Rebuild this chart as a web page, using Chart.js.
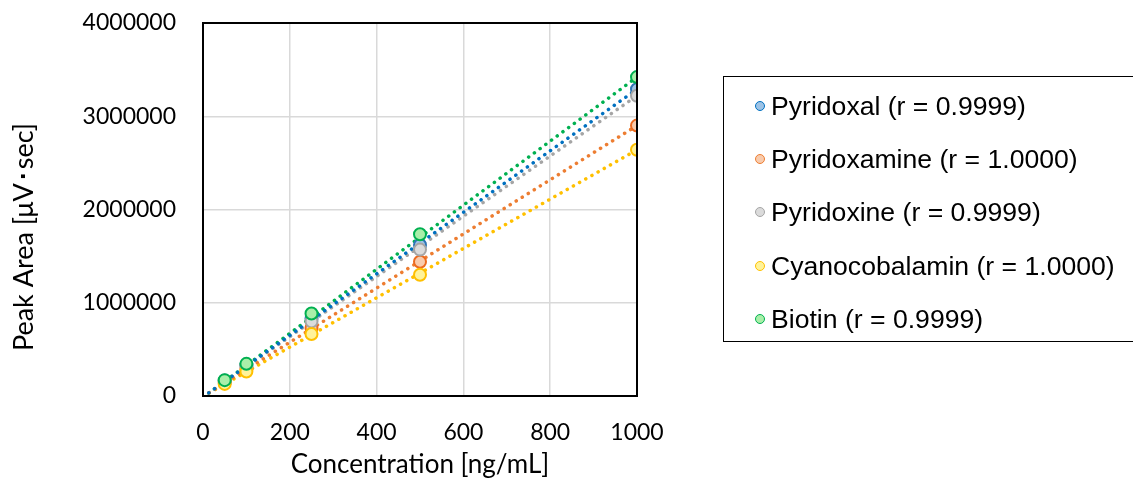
<!DOCTYPE html>
<html>
<head>
<meta charset="utf-8">
<script src="https://cdn.jsdelivr.net/npm/chart.js@4"></script>
<style>
  html, body { margin: 0; padding: 0; background: #fff; }
  #wrap { position: relative; width: 1133px; height: 484px; overflow: hidden; }
  #legend {
    position: absolute; left: 723px; top: 76px; width: 440px; height: 266px;
    border: 1.5px solid #000; box-sizing: border-box;
    font-family: "Liberation Sans", Arial, sans-serif; font-size: 26.6px; color: #000;
  }
  .item { position: absolute; left: 31px; height: 30px; line-height: 30px; white-space: nowrap; }
  .dot {
    display: inline-block; width: 8px; height: 8px; border-radius: 50%;
    border: 1.5px solid; vertical-align: middle; margin-right: 6px; position: relative; top: -2px;
  }
</style>
</head>
<body>
<div id="wrap">
  <canvas id="chart" width="1133" height="484"></canvas>
  <div id="legend"></div>
</div>
<script>
const concentrations = [50, 100, 250, 500, 1000];
const pyridoxal = [165000, 330000, 830000, 1620000, 3290000];
const pyridoxamine = [145000, 290000, 730000, 1440000, 2900000];
const pyridoxine = [160000, 320000, 800000, 1570000, 3220000];
const cyanocobalamin = [130000, 262000, 665000, 1300000, 2640000];
const biotin = [170000, 345000, 885000, 1735000, 3420000];

// trendline end points (x = 0 and x = 1000)
const trendX = [0, 1000];
const pyridoxalTrend = [-10000, 3290000];
const pyridoxamineTrend = [-5000, 2900000];
const pyridoxineTrend = [-10000, 3220000];
const cyanocobalaminTrend = [-5000, 2640000];
const biotinTrend = [-15000, 3420000];

const labels = ['Pyridoxal (r = 0.9999)', 'Pyridoxamine (r = 1.0000)', 'Pyridoxine (r = 0.9999)',
                'Cyanocobalamin (r = 1.0000)', 'Biotin (r = 0.9999)'];

const series = [
    { data: pyridoxal, trend: pyridoxalTrend, line: '#0070C0', edge: '#2E75B6', fill: '#9DC3E6' },
    { data: pyridoxamine, trend: pyridoxamineTrend, line: '#ED7D31', edge: '#ED6A1F', fill: '#F8CBAD' },
    { data: pyridoxine, trend: pyridoxineTrend, line: '#A5A5A5', edge: '#A5A5A5', fill: '#DBDBDB' },
    { data: cyanocobalamin, trend: cyanocobalaminTrend, line: '#FFC000', edge: '#FFC000', fill: '#FFF39A' },
    { data: biotin, trend: biotinTrend, line: '#00B050', edge: '#00B050', fill: '#A9EFA9' }
];

function toPoints(xs, ys) {
    return xs.map((x, i) => ({ x: x, y: ys[i] }));
}

const datasets = [];
series.forEach((s, i) => {
    datasets.push({
        label: labels[i],
        data: toPoints(concentrations, s.data),
        showLine: false,
        pointRadius: 6,
        pointBorderWidth: 2,
        pointBackgroundColor: s.fill,
        pointBorderColor: s.edge,
        order: 5 - i
    });
    datasets.push({
        label: labels[i] + ' trend',
        data: toPoints(trendX, s.trend),
        showLine: true,
        pointRadius: 0,
        borderColor: s.line,
        borderWidth: 3.5,
        borderDash: [0.1, 7],
        borderCapStyle: 'round',
        order: 20
    });
});

// html legend
const legendBox = document.getElementById('legend');
series.forEach((s, i) => {
    const div = document.createElement('div');
    div.className = 'item';
    div.style.top = (14 + i * 53.2) + 'px';
    div.innerHTML = '<span class="dot" style="border-color:' + s.line + ';background:' + s.fill + '"></span>' + labels[i];
    legendBox.appendChild(div);
});

const frame = {
    id: 'frame',
    afterDraw(chart) {
        const a = chart.chartArea, ctx = chart.ctx;
        ctx.save();
        ctx.strokeStyle = '#000';
        ctx.lineWidth = 2;
        ctx.strokeRect(a.left, a.top, a.right - a.left, a.bottom - a.top);
        // y title
        ctx.translate(24, 237);
        ctx.rotate(-Math.PI / 2);
        ctx.fillStyle = '#000';
        ctx.font = '27px Lato';
        ctx.textAlign = 'center';
        ctx.textBaseline = 'middle';
        ctx.fillText('Peak Area [\u03bcV\uff65sec]', 0, 0);
        ctx.restore();
    }
};

Chart.defaults.font.family = 'Lato';
Chart.defaults.font.size = 23;
Chart.defaults.color = '#000';

new Chart(document.getElementById('chart').getContext('2d'), {
    type: 'scatter',
    data: { datasets: datasets },
    options: {
        responsive: false,
        animation: false,
        layout: { padding: { top: 23, right: 496, left: 0, bottom: 0 } },
        plugins: { legend: { display: false }, tooltip: { enabled: false } },
        scales: {
            x: {
                min: 0, max: 1000,
                ticks: { stepSize: 200, padding: 23, callback: v => String(v) },
                grid: { color: '#d9d9d9', lineWidth: 1.5, drawTicks: false },
                border: { display: false },
                title: { display: true, text: 'Concentration [ng/mL]', font: { size: 26 }, padding: { top: 0 } },
                afterFit(scale) { scale.height = 88; }
            },
            y: {
                min: 0, max: 4000000,
                ticks: { stepSize: 1000000, padding: 27, callback: v => String(v) },
                grid: { color: '#d9d9d9', lineWidth: 1.5, drawTicks: false },
                border: { display: false },
                afterFit(scale) {
                    scale.width = 203;
                    scale.paddingTop = 0;
                    scale.paddingBottom = 0;
                }
            }
        }
    },
    plugins: [frame]
});
</script>
</body>
</html>
